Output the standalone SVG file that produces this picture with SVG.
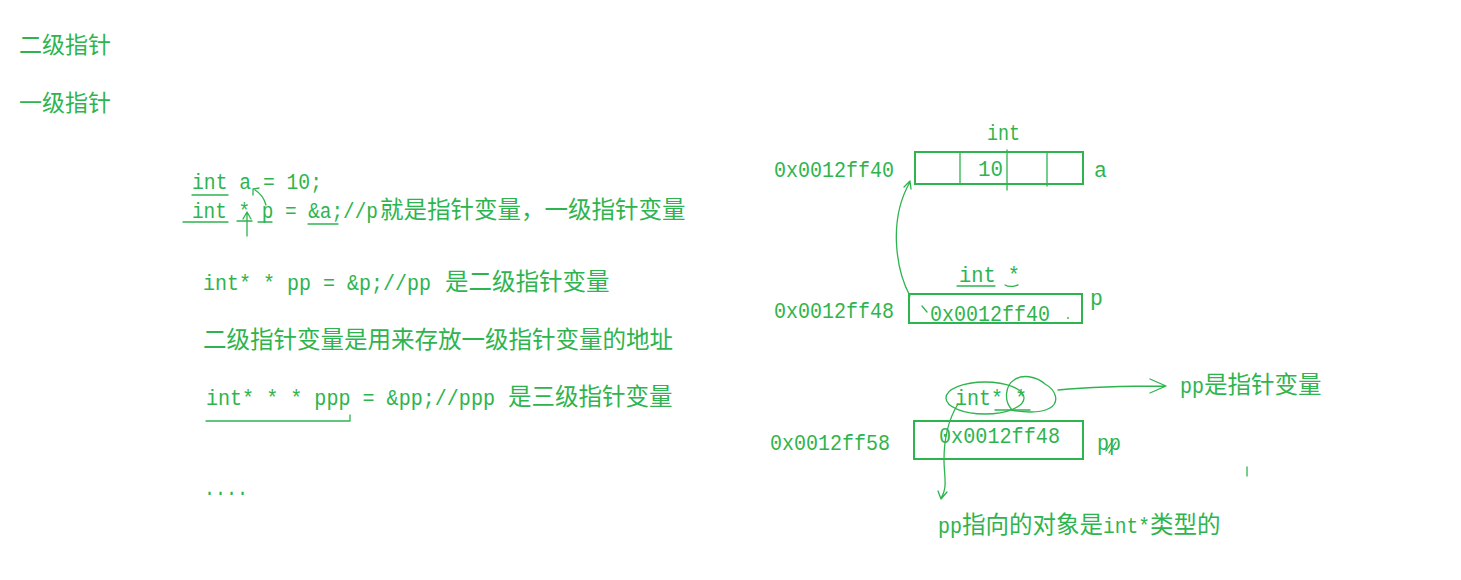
<svg xmlns="http://www.w3.org/2000/svg" width="1461" height="580" viewBox="0 0 1461 580">
<style>
text{fill:#2eb44e}
.c{font-family:"Noto Sans CJK SC","Liberation Sans",sans-serif;font-size:23.5px}
.m{font-family:"Liberation Mono","Noto Sans CJK SC",monospace;font-size:21.5px}
.h{font-family:"Noto Sans CJK SC",sans-serif;font-size:23px}
.box{fill:none;stroke:#2eb44e;stroke-width:2}
.pen{fill:none;stroke:#2eb44e;stroke-width:1.3;stroke-linecap:round;stroke-linejoin:round}
</style>
<rect width="1461" height="580" fill="#fff"/>
<g id="headings">
<text class="h" x="19" y="53">二级指针</text>
<text class="h" x="19" y="111">一级指针</text>
</g>
<g id="code">
<text class="m" x="192" y="189" textLength="130" lengthAdjust="spacingAndGlyphs">int a = 10;</text>
<text class="m" x="192" y="218" textLength="186" lengthAdjust="spacingAndGlyphs">int * p = &amp;a;//p</text>
<text class="c" x="380" y="218">就是指针变量，一级指针变量</text>
<text class="m" x="203" y="290" textLength="228" lengthAdjust="spacingAndGlyphs">int* * pp = &amp;p;//pp</text>
<text class="c" x="445" y="290">是二级指针变量</text>
<text class="c" x="203" y="348">二级指针变量是用来存放一级指针变量的地址</text>
<text class="m" x="206" y="405" textLength="289" lengthAdjust="spacingAndGlyphs">int* * * ppp = &amp;pp;//ppp</text>
<text class="c" x="508" y="405">是三级指针变量</text>
<text class="m" x="204" y="495" textLength="44" lengthAdjust="spacingAndGlyphs">....</text>
</g>
<g id="code-marks" class="pen">
<path d="M192,195 H228"/>
<path d="M183,222 H228"/>
<path d="M237,221 H252"/>
<path d="M258,222 H272"/>
<path d="M308,224 H338"/>
<path d="M247,236 V213 M243,219 L247,212 L251,219"/>
<path d="M266,205 C264,198 260,193 255,190 M253,195 L253,189 L259,188"/>
<path d="M206,421 H350 V415"/>
</g>
<g id="node-a">
<text class="m" x="987" y="140" textLength="33" lengthAdjust="spacingAndGlyphs">int</text>
<text class="m" x="774" y="177" textLength="120" lengthAdjust="spacingAndGlyphs">0x0012ff40</text>
<rect class="box" x="915" y="152" width="168" height="32"/>
<path class="pen" d="M960,153 V183 M1007,150 V190 M1047,153 V186"/>
<text class="m" x="978" y="176" textLength="25" lengthAdjust="spacingAndGlyphs">10</text>
<text class="m" x="1094" y="177">a</text>
</g>
<g id="node-p">
<text class="m" x="959" y="282" textLength="61" lengthAdjust="spacingAndGlyphs">int *</text>
<path class="pen" d="M957,286 H995 M1005,285 C1010,288 1014,286 1018,285"/>
<text class="m" x="774" y="318" textLength="120" lengthAdjust="spacingAndGlyphs">0x0012ff48</text>
<rect class="box" x="909" y="294" width="173" height="29"/>
<text class="m" x="930" y="321" textLength="120" lengthAdjust="spacingAndGlyphs">0x0012ff40</text>
<circle cx="1068" cy="318" r="0.9" fill="#2eb44e"/>
<text class="m" x="1090" y="305">p</text>
</g>
<g id="node-pp">
<text class="m" x="955" y="405" textLength="72" lengthAdjust="spacingAndGlyphs">int* *</text>
<ellipse class="pen" cx="985" cy="398" rx="39" ry="16"/>
<path class="pen" d="M1012,410 C1003,400 1006,385 1014,380 C1022,374 1036,376 1045,384 C1056,390 1060,402 1050,408 C1040,414 1020,412 1012,410 Z"/>
<path class="pen" d="M995,410 H1030"/>
<text class="m" x="770" y="450" textLength="120" lengthAdjust="spacingAndGlyphs">0x0012ff58</text>
<rect class="box" x="914" y="421" width="169" height="38"/>
<text class="m" x="939" y="443" textLength="121" lengthAdjust="spacingAndGlyphs">0x0012ff48</text>
<text class="m" x="1097" y="450" textLength="24" lengthAdjust="spacingAndGlyphs">pp</text>
<path class="pen" d="M1113,440 L1106,451 M1116,442 L1109,453"/>
<path class="pen" d="M1247,467 V476" stroke-width="2.5"/>
</g>
<g id="notes">
<text class="m" x="1180" y="393" textLength="24" lengthAdjust="spacingAndGlyphs">pp</text>
<text class="c" x="1204" y="393">是指针变量</text>
<text class="m" x="938" y="533" textLength="24" lengthAdjust="spacingAndGlyphs">pp</text>
<text class="c" x="962" y="533">指向的对象是</text>
<text class="m" x="1103" y="533" textLength="47" lengthAdjust="spacingAndGlyphs">int*</text>
<text class="c" x="1150" y="533">类型的</text>
</g>
<g id="connectors" class="pen">
<path d="M910,296 C896,270 888,220 910,182 M904,187 L910,181 L911,189"/>
<path d="M922,306 L927,312"/>
<path d="M1058,390 C1090,387 1120,386 1165,386 M1150,379 L1166,386 L1150,393"/>
<path d="M958,404 C948,420 944,440 944,460 C944,475 948,488 941,498 M938,491 L941,499 L947,492"/>
</g>
</svg>
